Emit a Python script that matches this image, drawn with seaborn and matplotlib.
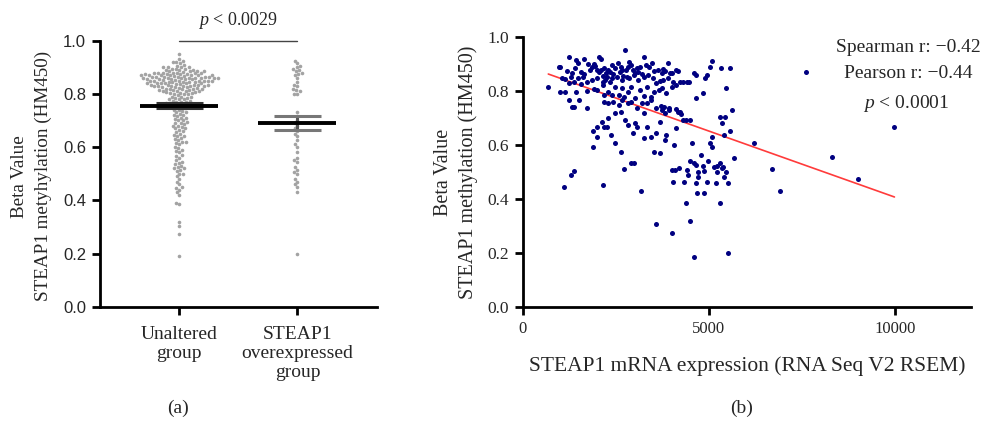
import numpy as np
import pandas as pd
import matplotlib
matplotlib.use('Agg')
import matplotlib.pyplot as plt
import seaborn as sns

# (a) beta values per group
unaltered = [0.95,
    0.93, 0.925, 0.92, 0.92, 0.915, 0.91,
    0.905, 0.90, 0.90, 0.90, 0.895, 0.895, 0.89, 0.89, 0.89, 0.885, 0.885, 0.885,
    0.88, 0.88, 0.88, 0.88, 0.88, 0.875,
    0.875, 0.875, 0.87, 0.87, 0.87, 0.87, 0.87, 0.87, 0.865, 0.865, 0.865, 0.865,
    0.86, 0.86, 0.86, 0.86, 0.86, 0.86, 0.855, 0.855, 0.855, 0.855, 0.85, 0.85, 0.85, 0.85, 0.85,
    0.845, 0.845, 0.845, 0.84, 0.84, 0.84, 0.84, 0.835, 0.835, 0.835, 0.83, 0.83, 0.83, 0.83,
    0.825, 0.825, 0.82, 0.82, 0.82, 0.815, 0.815, 0.81, 0.81, 0.81, 0.805, 0.80, 0.80, 0.80,
    0.902, 0.893, 0.887, 0.883, 0.878, 0.877, 0.873, 0.872, 0.868, 0.867, 0.864, 0.862,
    0.861, 0.858, 0.857, 0.853, 0.852, 0.849, 0.848, 0.846, 0.843, 0.842, 0.839, 0.838,
    0.836, 0.833, 0.832, 0.829, 0.828, 0.826, 0.823, 0.821, 0.818, 0.817, 0.813, 0.812,
    0.808, 0.806, 0.803, 0.802,
    0.795, 0.79, 0.79, 0.79, 0.785, 0.785, 0.78, 0.78, 0.78, 0.775, 0.775, 0.77, 0.77, 0.77,
    0.765, 0.765, 0.76, 0.76, 0.76, 0.755, 0.755, 0.75, 0.75, 0.75,
    0.745, 0.74, 0.74, 0.735, 0.73, 0.73, 0.725, 0.72, 0.72, 0.715, 0.71, 0.71, 0.705, 0.70,
    0.70, 0.695, 0.69, 0.69, 0.685, 0.68, 0.68, 0.675, 0.67, 0.67, 0.665, 0.66, 0.655, 0.65,
    0.645, 0.64, 0.64, 0.635, 0.63, 0.625, 0.62, 0.62, 0.615, 0.61, 0.60, 0.595, 0.59, 0.585,
    0.58, 0.57, 0.565, 0.56, 0.55, 0.545, 0.54, 0.535, 0.53, 0.525, 0.52, 0.52, 0.515, 0.51,
    0.50, 0.50, 0.49, 0.48, 0.47, 0.46, 0.45, 0.445, 0.44, 0.43,
    0.42, 0.39, 0.385, 0.32, 0.305, 0.275, 0.19]
overexpressed = [0.925, 0.915, 0.905, 0.90, 0.895, 0.89, 0.885, 0.88, 0.875, 0.87, 0.86,
    0.845, 0.835, 0.83, 0.82, 0.815, 0.81, 0.80, 0.80,
    0.73, 0.715, 0.70, 0.69, 0.68, 0.67, 0.66, 0.65, 0.64, 0.625, 0.61, 0.60,
    0.58, 0.56, 0.55, 0.545, 0.525, 0.515, 0.505, 0.50, 0.48, 0.47, 0.46, 0.45, 0.43, 0.20]
group_names = ['Unaltered\ngroup', 'STEAP1\noverexpressed\ngroup']

# (b) mRNA expression vs beta value
mrna = [683, 1115, 1288, 1365, 1308, 1250, 1510, 1711, 1894, 1885, 2000, 2000, 2154, 2135,
    2192, 2260, 2298, 2365, 2481, 2471, 2625, 2644, 2721, 2750, 2817, 2894, 2990, 3163,
    2961, 3010, 3077, 3250, 3346, 3250, 3442, 3538, 3586, 3586, 3683, 3683, 3827, 3836,
    3731, 3827, 3923, 4019, 4048, 4009, 4077, 4192, 4057, 4115, 4163, 4317, 4384, 4490,
    4327, 4404, 4375, 4442, 4500, 4548, 4596, 4596, 4663, 4644, 4692, 4702, 4798, 4846,
    4865, 4942, 4644, 4836, 4884, 4942, 5029, 5077, 4596, 4644, 4404, 4471, 5029, 5077,
    5096, 5144, 5231, 5221, 5288, 5346, 5384, 5288, 5394, 5288, 5442, 5346, 5557, 5461,
    5509, 5519, 5634, 5683, 5557, 5336, 5461, 6205, 6685, 6925, 7617, 8318, 9000, 9989,
    990, 971, 1231, 1423, 1490, 1635, 1760, 1856, 1904, 2048, 2096, 2000, 2096, 2192, 2240,
    2288, 2385, 2481, 2558, 2625, 2673, 2750, 2827, 2865, 2913, 2961, 3010, 3058, 3154,
    3250, 3298, 3394, 3461, 3538, 3635, 3731, 3779, 3827, 3904, 3942, 4019, 4115, 4163,
    1038, 1135, 1327, 1375, 1471, 1615, 1711, 1856, 2000, 2144, 2211, 2336, 2404, 2529,
    2673, 2788, 2865, 2981, 3106, 3250, 3365, 3490, 3586, 3683, 3779, 3904, 4038, 4211, 4307,
    990, 1135, 1231, 1423, 1711, 1904, 2000, 2144, 2192, 2288, 2385, 2481, 2577, 2673,
    2721, 2817, 2913, 3010, 3154, 3250, 3346, 3442, 3538, 3654, 3750, 3846, 4019, 4115,
    1375, 2192, 2288, 2433, 2577, 2673, 2817, 2913, 3058, 3202, 3346, 3442, 3586, 3711,
    3798, 3923, 4115, 4211, 4259,
    1180, 1400, 1560, 1650, 1800, 1950, 2050, 2150, 2330, 2420, 2600, 2700, 2780, 3100,
    3200, 1300, 1550, 2250, 4720, 4980, 5180, 4480, 5420, 4880]
beta = [0.817, 0.446, 0.490, 0.504, 0.740, 0.767, 0.767, 0.736, 0.594, 0.653, 0.631, 0.668,
    0.453, 0.687, 0.668, 0.668, 0.699, 0.637, 0.606, 0.718, 0.724, 0.573, 0.511, 0.693,
    0.675, 0.532, 0.532, 0.429, 0.644, 0.681, 0.668, 0.625, 0.668, 0.718, 0.631, 0.576,
    0.644, 0.307, 0.572, 0.687, 0.619, 0.637, 0.730, 0.718, 0.736, 0.275, 0.464, 0.507,
    0.506, 0.514, 0.600, 0.662, 0.724, 0.693, 0.693, 0.693, 0.464, 0.507, 0.386, 0.488,
    0.318, 0.606, 0.186, 0.532, 0.526, 0.458, 0.421, 0.480, 0.563, 0.524, 0.423, 0.464,
    0.776, 0.792, 0.848, 0.860, 0.891, 0.913, 0.866, 0.860, 0.833, 0.833, 0.606, 0.594,
    0.629, 0.520, 0.501, 0.524, 0.386, 0.514, 0.520, 0.532, 0.636, 0.705, 0.705, 0.681,
    0.653, 0.501, 0.458, 0.198, 0.730, 0.551, 0.887, 0.885, 0.811, 0.606, 0.511, 0.429,
    0.870, 0.554, 0.475, 0.666,
    0.889, 0.889, 0.926, 0.916, 0.906, 0.918, 0.901, 0.891, 0.900, 0.926, 0.918, 0.879,
    0.879, 0.885, 0.866, 0.879, 0.897, 0.885, 0.906, 0.891, 0.879, 0.953, 0.891, 0.910,
    0.897, 0.879, 0.866, 0.885, 0.891, 0.926, 0.897, 0.891, 0.903, 0.873, 0.879, 0.866,
    0.881, 0.873, 0.903, 0.866, 0.866, 0.879, 0.873,
    0.848, 0.844, 0.866, 0.835, 0.848, 0.854, 0.835, 0.842, 0.848, 0.835, 0.842, 0.835,
    0.848, 0.854, 0.842, 0.854, 0.848, 0.860, 0.842, 0.854, 0.860, 0.848, 0.829, 0.837,
    0.842, 0.848, 0.835, 0.835, 0.833,
    0.798, 0.798, 0.829, 0.798, 0.802, 0.807, 0.804, 0.823, 0.786, 0.798, 0.786, 0.817,
    0.786, 0.811, 0.780, 0.798, 0.817, 0.774, 0.804, 0.782, 0.817, 0.777, 0.798, 0.804,
    0.811, 0.792, 0.817, 0.823,
    0.743, 0.761, 0.755, 0.761, 0.749, 0.767, 0.755, 0.761, 0.736, 0.755, 0.755, 0.767,
    0.736, 0.745, 0.740, 0.730, 0.733, 0.724, 0.714,
    0.873, 0.885, 0.870, 0.862, 0.880, 0.893, 0.872, 0.858, 0.871, 0.862, 0.872, 0.858,
    0.880, 0.872, 0.862, 0.852, 0.826, 0.852, 0.500, 0.540, 0.460, 0.540, 0.480, 0.505]

sns.set_style('ticks')
serif = 'Liberation Serif'
plt.rcParams['font.family'] = [serif, 'DejaVu Serif']
plt.rcParams['mathtext.fontset'] = 'custom'
plt.rcParams['mathtext.it'] = serif + ':italic'
plt.rcParams['mathtext.rm'] = serif

fig = plt.figure(figsize=(9.96, 4.23), dpi=100)
ax1 = fig.add_axes([0.1004, 0.2749, 0.278, 0.629])
ax2 = fig.add_axes([0.525, 0.2749, 0.450, 0.637])

# ---- panel a
df = pd.DataFrame({'group': [group_names[0]] * len(unaltered) + [group_names[1]] * len(overexpressed),
                   'beta': unaltered + overexpressed})
sns.swarmplot(data=df, x='group', y='beta', order=group_names, color='#a3a3a3',
              size=2.6, linewidth=0, ax=ax1, warn_thresh=1)
stats = df.groupby('group', sort=False)['beta'].agg(['mean', 'sem'])
for i, g in enumerate(group_names):
    m, s = stats.loc[g, 'mean'], stats.loc[g, 'sem']
    ax1.vlines(i, m - s, m + s, color='#555555', lw=2.2, zorder=4)
    ax1.hlines([m - s, m + s], i - 0.2, i + 0.2, color='#777777' if i else '#333333', lw=2.2, zorder=4)
    ax1.hlines(m, i - 0.33, i + 0.33, color='black', lw=2.8, zorder=5)

ax1.plot([0, 1], [1.0, 1.0], color='#444444', lw=1.0, clip_on=False)
ax1.text(0.5, 1.035, '$p$ < 0.0029', ha='center', va='bottom', fontsize=13)
ax1.set_xlim(-0.672, 1.673)
ax1.set_ylim(0, 1.0)
ax1.set_yticks([0, 0.2, 0.4, 0.6, 0.8, 1.0])
ax1.set_yticklabels(['0.0', '0.2', '0.4', '0.6', '0.8', '1.0'], family='Liberation Sans', fontsize=12)
ax1.set_xticks([0, 1])
ax1.set_xticklabels(group_names, fontsize=14, linespacing=1.15)
ax1.set_xlabel('')
ax1.set_ylabel('Beta Value\nSTEAP1 metyhylation (HM450)', fontsize=13.8, linespacing=1.5)
ax1.yaxis.set_label_coords(-0.175, 0.49)

# ---- panel b
sns.scatterplot(x=mrna, y=beta, color='#000080', s=13, linewidth=0, ax=ax2, zorder=3)
sns.regplot(x=np.array(mrna), y=np.array(beta), scatter=False, ci=None, truncate=True,
            line_kws=dict(color='#ff3b3b', lw=1.2), ax=ax2)
ax2.set_xlim(0, 12050)
ax2.set_ylim(0, 1.0)
ax2.set_xticks([0, 5000, 10000])
ax2.set_xticklabels(['0', '5000', '10000'], fontsize=12)
ax2.set_yticks([0, 0.2, 0.4, 0.6, 0.8, 1.0])
ax2.set_yticklabels(['0.0', '0.2', '0.4', '0.6', '0.8', '1.0'], fontsize=12.5)
ax2.set_xlabel('STEAP1 mRNA expression (RNA Seq V2 RSEM)', fontsize=15.5, labelpad=14)
ax2.set_ylabel('Beta Value\nSTEAP1 methylation (HM450)', fontsize=14.5, linespacing=1.35)
ax2.yaxis.set_label_coords(-0.10, 0.5)

fig.text(0.912, 1 - 47 / 423, 'Spearman r: \u22120.42', ha='center', va='center', fontsize=14)
fig.text(0.912, 1 - 73 / 423, 'Pearson r: \u22120.44', ha='center', va='center', fontsize=14)
fig.text(0.910, 1 - 103 / 423, '$p$ < 0.0001', ha='center', va='center', fontsize=14)

for ax in (ax1, ax2):
    sns.despine(ax=ax)
    for sp in ('left', 'bottom'):
        ax.spines[sp].set_linewidth(2.0)
        ax.spines[sp].set_color('black')
    ax.tick_params(direction='out', length=6, width=2, color='black', pad=4)
ax1.tick_params(axis='x', pad=8)

fig.text(178 / 996, 1 - 408 / 423, '(a)', ha='center', va='center', fontsize=14)
fig.text(742 / 996, 1 - 408 / 423, '(b)', ha='center', va='center', fontsize=14)

fig.savefig('out.png', dpi=100)
